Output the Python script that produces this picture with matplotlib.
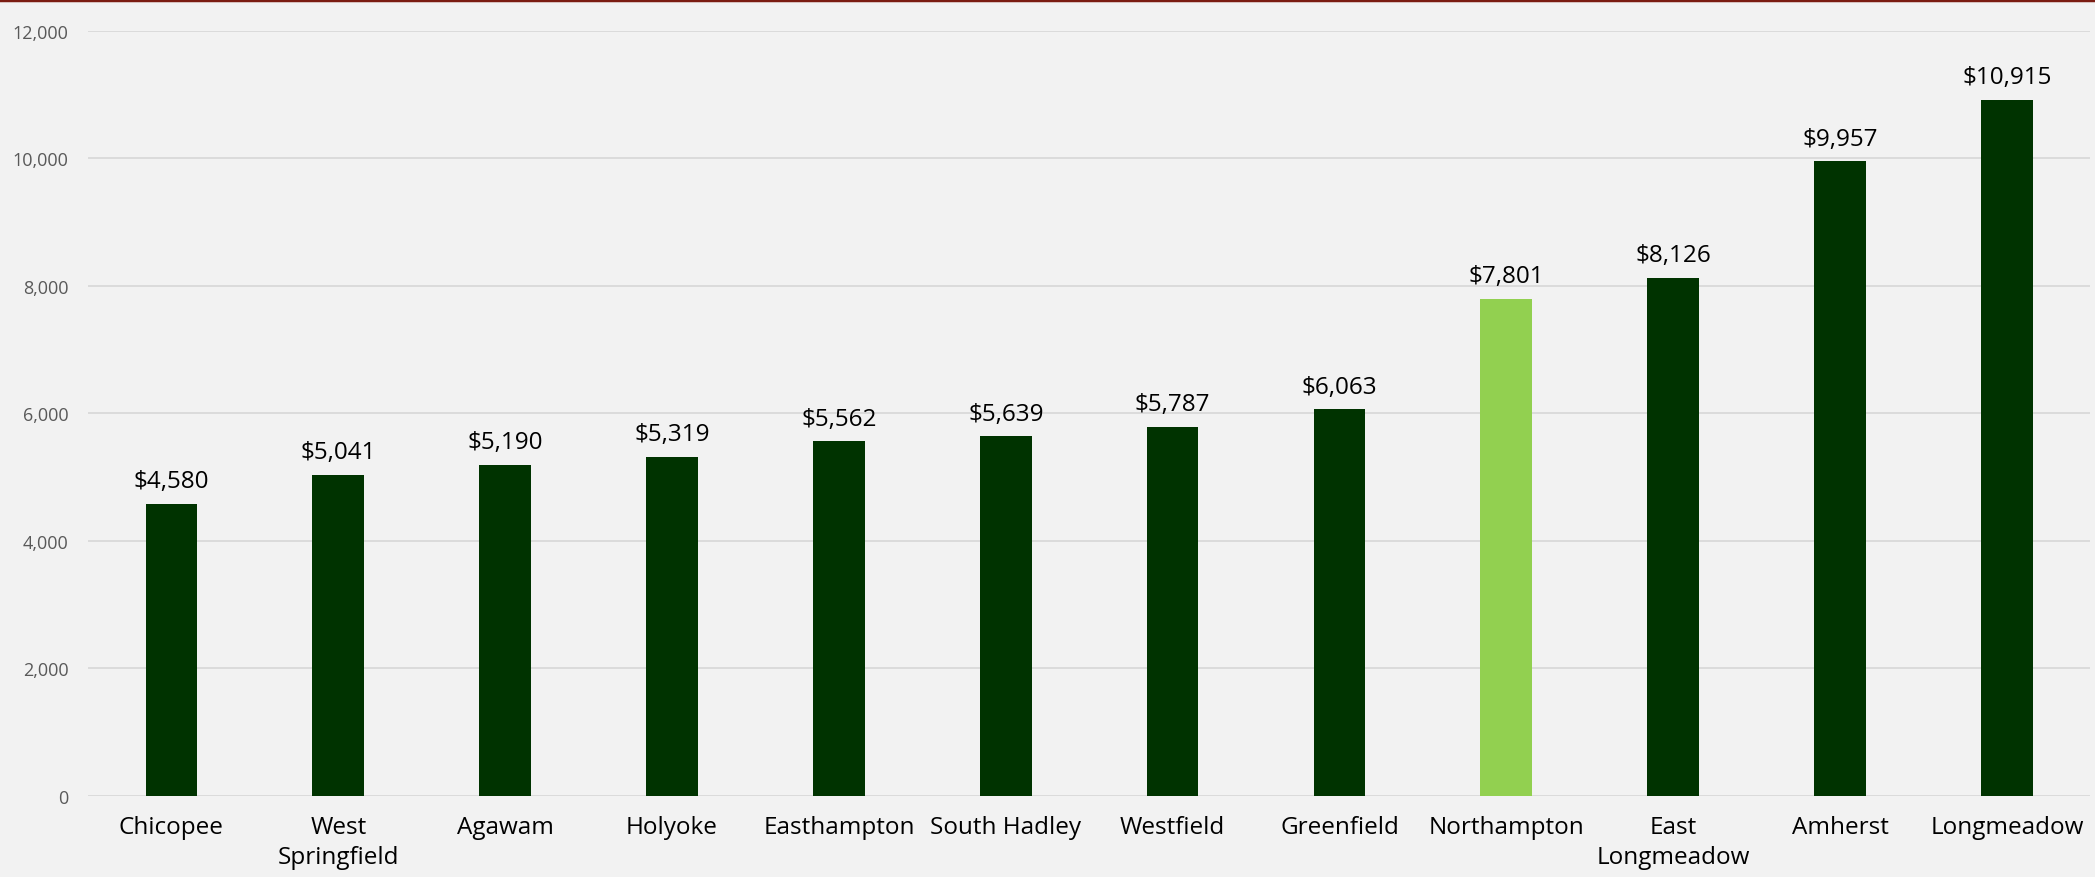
import matplotlib as mpl
mpl.use('Agg')
import matplotlib.pyplot as plt
from matplotlib.lines import Line2D

towns = ['Chicopee', 'West\nSpringfield', 'Agawam', 'Holyoke', 'Easthampton',
         'South Hadley', 'Westfield', 'Greenfield', 'Northampton',
         'East\nLongmeadow', 'Amherst', 'Longmeadow']
spending = [4580, 5041, 5190, 5319, 5562, 5639, 5787, 6063, 7801, 8126, 9957, 10915]
highlight = 'Northampton'
y_ticks = [0, 2000, 4000, 6000, 8000, 10000, 12000]

plt.rcParams['font.family'] = ['Open Sans', 'DejaVu Sans']

bg = '#f2f2f2'
fig = plt.figure(figsize=(20.95, 8.78), dpi=100, facecolor=bg)
ax = fig.add_axes([0.042, 0.0923, 0.9558, 0.8713], facecolor=bg)

colors = ['#92d050' if t == highlight else '#003300' for t in towns]
x = range(len(towns))
bars = ax.bar(x, spending, width=0.31, color=colors, zorder=3)

for rect, v in zip(bars, spending):
    ax.annotate('${:,}'.format(v), (rect.get_x() + rect.get_width() / 2, v),
                xytext=(0, 12), textcoords='offset points',
                ha='center', va='baseline', fontsize=17.5, color='#000000')

ax.set_xlim(-0.5, len(towns) - 0.5)
ax.set_ylim(0, 12000)
ax.set_yticks(y_ticks)
ax.set_yticklabels(['{:,}'.format(t) for t in y_ticks])
ax.set_xticks(list(x))
ax.set_xticklabels(towns, fontsize=17.5, color='#000000', linespacing=1.3)
ax.tick_params(axis='y', length=0, pad=14, labelsize=13, labelcolor='#595959')
ax.tick_params(axis='x', length=0, pad=14)

ax.grid(axis='y', color='#d9d9d9', linewidth=1.3, zorder=0)
for s in ax.spines.values():
    s.set_visible(False)

# dark red rule along the top edge
fig.add_artist(Line2D([0, 1], [0.9985, 0.9985], transform=fig.transFigure,
                      color='#7b1c12', linewidth=2.5))

fig.savefig('out.png', dpi=100, facecolor=bg)
